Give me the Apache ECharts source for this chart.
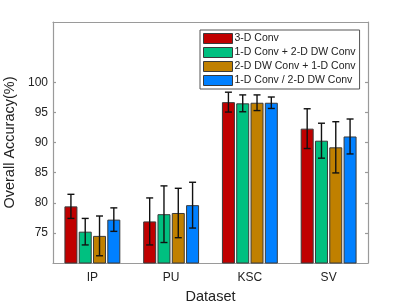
<!DOCTYPE html>
<html><head><meta charset="utf-8">
<script src="https://cdn.jsdelivr.net/npm/echarts@6/dist/echarts.min.js"></script>
<style>html,body{margin:0;padding:0;background:#fff}#c{width:407px;height:305px}</style>
</head><body><div id="c"></div>
<script>
const categories = ['IP', 'PU', 'KSC', 'SV'];
const seriesNames = ['3-D Conv', '1-D Conv + 2-D DW Conv', '2-D DW Conv + 1-D Conv', '1-D Conv / 2-D DW Conv'];
const conv3d   = [79.4, 76.9, 96.7, 92.3];
const conv1d2d = [75.2, 78.1, 96.5, 90.3];
const conv2d1d = [74.5, 78.3, 96.6, 89.2];
const convPar  = [77.2, 79.6, 96.6, 91.0];
const err3d   = [2.0, 3.9, 1.65, 3.3];
const err1d2d = [2.2, 4.7, 1.4, 2.9];
const err2d1d = [3.3, 4.1, 1.3, 4.25];
const errPar  = [1.95, 3.8, 0.95, 2.9];
const yTicks = [75, 80, 85, 90, 95, 100];

const values = [conv3d, conv1d2d, conv2d1d, convPar];
const errors = [err3d, err1d2d, err2d1d, errPar];
const colors = ['#C00000', '#00C080', '#C08000', '#0080FF'];
const FONT = "'Liberation Sans', Arial, Helvetica, sans-serif";
const BAR_W = 13, BAR_GAP = 1.3;

const series = [];
values.forEach((vals, i) => {
  series.push({
    name: seriesNames[i], type: 'bar', data: vals, barWidth: BAR_W, barGap: '10%',
    itemStyle: { color: colors[i], borderColor: '#3a3a3a', borderWidth: 1 },
    z: 2
  });
});
values.forEach((vals, i) => {
  series.push({
    type: 'custom', name: 'err' + i, silent: true, z: 5,
    data: vals.map((v, k) => [k, v - errors[i][k], v + errors[i][k]]),
    renderItem: function (params, api) {
      const k = api.value(0);
      const lo = api.coord([k, api.value(1)]);
      const hi = api.coord([k, api.value(2)]);
      const total = 4 * BAR_W + 3 * BAR_GAP;
      const x = lo[0] - total / 2 + i * (BAR_W + BAR_GAP) + BAR_W / 2;
      const cap = 3.5;
      const st = { stroke: '#111', lineWidth: 1.4 };
      return { type: 'group', children: [
        { type: 'line', shape: { x1: x, y1: hi[1], x2: x, y2: lo[1] }, style: st },
        { type: 'line', shape: { x1: x - cap, y1: hi[1], x2: x + cap, y2: hi[1] }, style: st },
        { type: 'line', shape: { x1: x - cap, y1: lo[1], x2: x + cap, y2: lo[1] }, style: st }
      ]};
    }
  });
});

const axisLineStyle = { color: '#9a9a9a', width: 1.2 };
const chart = echarts.init(document.getElementById('c'), null, { renderer: 'canvas' });
chart.setOption({
  animation: false,
  backgroundColor: '#fff',
  textStyle: { fontFamily: FONT },
  grid: { left: 53, right: 39, top: 22, bottom: 42, outerBoundsMode: 'none', containLabel: false },
  legend: {
    data: seriesNames, orient: 'vertical', left: 200, top: 30,
    icon: 'rect',
    itemWidth: 29, itemHeight: 10, itemGap: 3,
    padding: [3, 4, 3, 3],
    backgroundColor: '#fff', borderColor: '#555', borderWidth: 1,
    textStyle: { fontFamily: FONT, fontSize: 10.5, color: '#222', lineHeight: 11, padding: [0, 0, 0, -3] },
    itemStyle: { borderColor: '#3a3a3a', borderWidth: 1 }
  },
  xAxis: [{
    type: 'category', data: categories, boundaryGap: true,
    name: 'Dataset', nameLocation: 'middle', nameGap: 26,
    nameTextStyle: { fontFamily: FONT, fontSize: 14.5, color: '#222' },
    axisLine: { lineStyle: axisLineStyle },
    axisTick: { inside: true, alignWithLabel: true, length: 3, lineStyle: axisLineStyle },
    axisLabel: { fontFamily: FONT, fontSize: 12, color: '#222', margin: 9 },
    splitLine: { show: false }
  }, {
    type: 'category', data: categories, position: 'top', boundaryGap: true,
    axisLine: { lineStyle: axisLineStyle },
    axisTick: { inside: true, alignWithLabel: true, length: 3, lineStyle: axisLineStyle },
    axisLabel: { show: false }, splitLine: { show: false }
  }],
  yAxis: [{
    type: 'value', min: 70, max: 110, interval: 5,
    name: 'Overall Accuracy(%)', nameLocation: 'middle', nameGap: 30,
    nameTextStyle: { fontFamily: FONT, fontSize: 14.5, color: '#222' },
    axisLine: { show: true, lineStyle: axisLineStyle },
    axisTick: { show: true, inside: true, length: 3, lineStyle: axisLineStyle, customValues: yTicks },
    axisLabel: { fontFamily: FONT, fontSize: 12, color: '#222', margin: 5, customValues: yTicks },
    splitLine: { show: false }
  }, {
    type: 'value', min: 70, max: 110, interval: 5, position: 'right',
    axisLine: { show: true, lineStyle: axisLineStyle },
    axisTick: { show: true, inside: true, length: 3, lineStyle: axisLineStyle, customValues: yTicks },
    axisLabel: { show: false }, splitLine: { show: false }
  }],
  series: series
});
</script></body></html>
